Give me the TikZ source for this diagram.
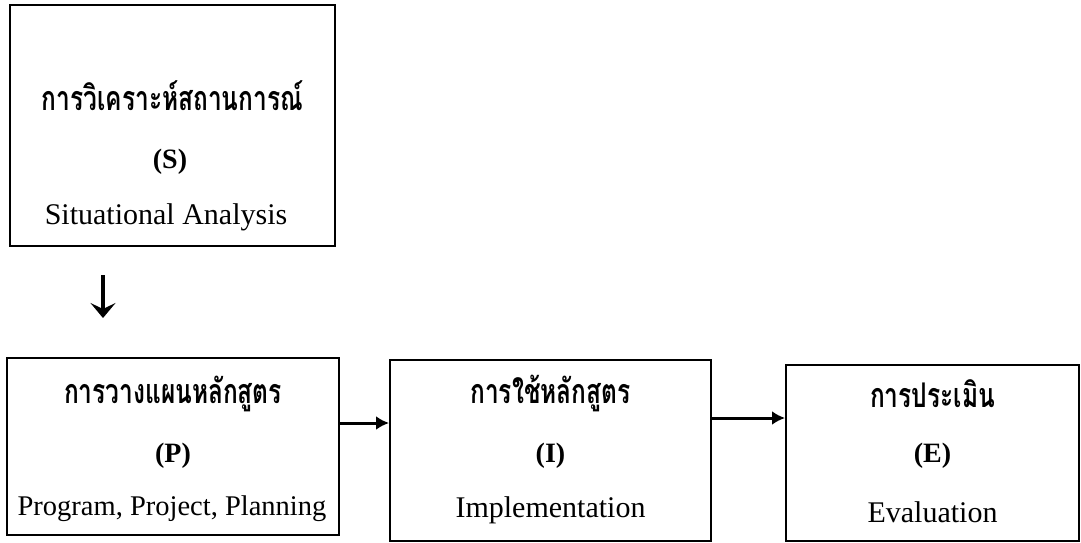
\documentclass[tikz,border=0pt]{standalone}
\usepackage{fontspec}
\setmainfont{Liberation Serif}
\newfontfamily\thaifont[Script=Thai]{Loma}
\usetikzlibrary{arrows.meta}
\newcommand{\thx}[1]{\scalebox{0.72}[1]{\thaifont\bfseries #1}}
\begin{document}
\begin{tikzpicture}[x=1pt,y=-1pt,
  box/.style={draw,line width=2pt,inner sep=0pt},
  th/.style={font=\fontsize{34}{38}\selectfont,inner sep=0pt,anchor=base},
  ab/.style={font=\bfseries\fontsize{28}{32}\selectfont,inner sep=0pt,anchor=base},
  en/.style={font=\fontsize{30}{34}\selectfont,inner sep=0pt,anchor=base},
  flow/.style={line width=3pt,-{Latex[length=13pt,width=14pt]}}]
\useasboundingbox (0,0) rectangle (1081,543);
\node[box,minimum width=325pt,minimum height=241pt] (S) at (172.5,125.5) {};
\node[box,minimum width=332pt,minimum height=177pt] (P) at (173,446.5) {};
\node[box,minimum width=321pt,minimum height=181pt] (I) at (550.5,450.5) {};
\node[box,minimum width=293pt,minimum height=176pt] (E) at (932.5,453) {};
% texts
\node[th] (s1) at (172.5,110) {\thx{การวิเคราะห์สถานการณ์}};
\node[ab] (s2) at (170,168) {(S)};
\node[en] (s3) at (166,224) {Situational Analysis};
\node[th] (p1) at (173,403) {\thx{การวางแผนหลักสูตร}};
\node[ab] (p2) at (173,462) {(P)};
\node[en,font=\fontsize{28.5}{34}\selectfont] (p3) at (172,515) {Program, Project, Planning};
\node[th] (i1) at (550.5,403) {\thx{การใช้หลักสูตร}};
\node[ab] (i2) at (550.5,462) {(I)};
\node[en] (i3) at (550.5,517) {Implementation};
\node[th] (e1) at (932.5,407) {\thx{การประเมิน}};
\node[ab] (e2) at (932.5,462) {(E)};
\node[en] (e3) at (932.5,522) {Evaluation};
% arrows
\coordinate (d1) at (103,275);
\coordinate (d2) at (103,318);
\draw[line width=3.2pt,-{Stealth[length=15pt,width=25pt,inset=6pt]}] (d1) -- (d2);
\draw[flow] (P.east |- 0,423) -- (I.west |- 0,423);
\draw[flow] (I.east |- 0,418) -- (E.west |- 0,418);
\end{tikzpicture}
\end{document}
